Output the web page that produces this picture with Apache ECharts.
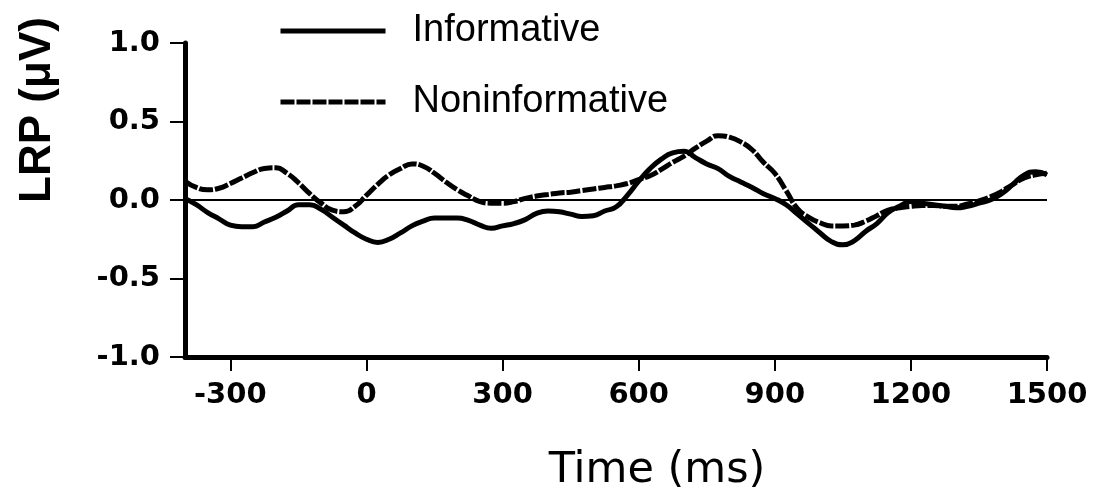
<!DOCTYPE html>
<html>
<head>
<meta charset="utf-8">
<script src="https://cdn.jsdelivr.net/npm/echarts@6/dist/echarts.min.js"></script>
<style>
html,body{margin:0;padding:0;background:#fff;}
#chart{width:1097px;height:496px;}
</style>
</head>
<body>
<div id="chart"></div>
<script>
var times = [-400,-375,-350,-325,-300,-275,-250,-225,-200,-175,-150,-125,-100,-75,-50,-25,0,25,50,75,100,125,150,175,200,225,250,275,300,325,350,375,400,425,450,475,500,525,550,575,600,625,650,675,700,725,750,775,800,825,850,875,900,925,950,975,1000,1025,1050,1075,1100,1125,1150,1175,1200,1225,1250,1275,1300,1325,1350,1375,1400,1425,1450,1475,1500];
var informative = [0.01,-0.03,-0.08,-0.12,-0.16,-0.17,-0.17,-0.14,-0.11,-0.07,-0.03,-0.03,-0.06,-0.11,-0.16,-0.21,-0.25,-0.27,-0.25,-0.21,-0.165,-0.135,-0.115,-0.115,-0.115,-0.13,-0.16,-0.18,-0.165,-0.15,-0.125,-0.085,-0.07,-0.075,-0.09,-0.105,-0.1,-0.07,-0.045,0.03,0.12,0.2,0.26,0.3,0.31,0.27,0.23,0.2,0.15,0.115,0.08,0.04,0.01,-0.03,-0.09,-0.15,-0.21,-0.265,-0.285,-0.26,-0.2,-0.15,-0.08,-0.04,-0.01,-0.02,-0.03,-0.04,-0.05,-0.04,-0.02,0.0,0.04,0.1,0.16,0.18,0.16];
var noninformative = [0.12,0.08,0.065,0.075,0.105,0.14,0.175,0.2,0.205,0.17,0.11,0.04,-0.02,-0.065,-0.075,-0.04,0.03,0.1,0.16,0.2,0.23,0.215,0.17,0.115,0.065,0.025,-0.01,-0.02,-0.02,-0.01,0.01,0.025,0.035,0.045,0.05,0.06,0.07,0.08,0.09,0.105,0.13,0.155,0.195,0.24,0.28,0.33,0.375,0.41,0.4,0.37,0.32,0.24,0.17,0.06,-0.055,-0.11,-0.145,-0.165,-0.165,-0.16,-0.135,-0.1,-0.065,-0.05,-0.04,-0.035,-0.035,-0.04,-0.04,-0.025,-0.005,0.02,0.055,0.1,0.14,0.16,0.17];
var xTicks = [-300,0,300,600,900,1200,1500];
var yTicks = [-1.0,-0.5,0.0,0.5,1.0];
var seriesNames = ['Informative','Noninformative'];
var xTitle = 'Time (ms)';
var yTitle = 'LRP (μV)';

function pairs(xs, ys){ return xs.map(function(x,i){ return [x, ys[i]]; }); }

var chart = echarts.init(document.getElementById('chart'), null, {renderer:'canvas'});
var tickFont = {fontFamily:'DejaVu Sans', fontWeight:'bold', fontSize:29, color:'#000'};
chart.setOption({
  animation:false,
  backgroundColor:'#fff',
  grid:{left:185, right:50, top:43, bottom:139, containLabel:false},
  legend:{
    orient:'vertical', left:273, top:6,
    itemWidth:105, itemHeight:40, itemGap:31,
    itemStyle:{opacity:0, borderWidth:0},
    lineStyle:{width:5},
    textStyle:{fontFamily:'Liberation Sans', fontSize:38, color:'#000', lineHeight:40, padding:[0,0,0,22]},
    data:seriesNames
  },
  xAxis:{
    type:'value', min:-400, max:1500,
    axisLine:{show:true, onZero:false, lineStyle:{color:'#000', width:5}},
    axisTick:{show:true, length:14, customValues:xTicks, lineStyle:{color:'#000', width:2}},
    axisLabel:Object.assign({margin:24, customValues:xTicks, formatter:function(v){return String(v);}}, tickFont),
    splitLine:{show:false}
  },
  yAxis:{
    type:'value', min:-1, max:1, interval:0.5,
    axisLine:{show:true, onZero:false, lineStyle:{color:'#000', width:5}},
    axisTick:{show:true, length:15, customValues:yTicks, lineStyle:{color:'#000', width:2}},
    axisLabel:Object.assign({margin:25, customValues:yTicks, formatter:function(v){return v.toFixed(1);}}, tickFont),
    splitLine:{show:false}
  },
  graphic:[
    {type:'text', x:38, y:110, rotation:Math.PI/2, style:{text:yTitle, fontFamily:'Liberation Sans', fontWeight:'bold', fontSize:44, fill:'#000', textAlign:'center', textVerticalAlign:'middle'}},
    {type:'text', x:657, y:471, style:{text:xTitle, fontFamily:'DejaVu Sans', fontSize:43, fill:'#000', textAlign:'center', textVerticalAlign:'middle'}}
  ],
  series:[
    {
      name:seriesNames[0], type:'line', data:pairs(times, informative), smooth:true, symbol:'none',
      lineStyle:{color:'#000', width:5, type:'solid'}, itemStyle:{color:'#000'},
      markLine:{silent:true, symbol:['none','none'], label:{show:false}, lineStyle:{color:'#000', width:2, type:'solid'}, data:[{yAxis:0}]}
    },
    {
      name:seriesNames[1], type:'line', data:pairs(times, noninformative), smooth:true, symbol:'none',
      lineStyle:{color:'#000', width:5, type:[14,2]}, itemStyle:{color:'#000'}
    }
  ]
});
</script>
</body>
</html>
